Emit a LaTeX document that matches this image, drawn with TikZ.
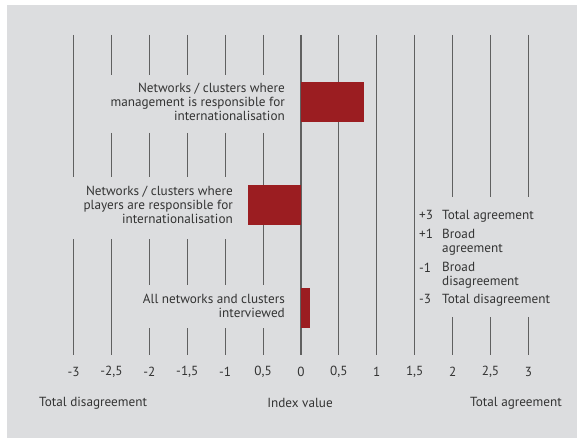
\documentclass[tikz,border=0pt]{standalone}
\usepackage{fontspec}
\setmainfont{PT Sans}
\usepackage{xcolor}
\definecolor{panelgray}{HTML}{DCDDDF}
\definecolor{barred}{HTML}{9B1D21}
\definecolor{linegray}{HTML}{606060}
\definecolor{textgray}{HTML}{333333}

\begin{document}
\begin{tikzpicture}[x=1pt,y=-1pt,
    gridline/.style={linegray,line width=1.1pt},
    txt/.style={text=textgray,inner sep=0pt,font=\fontsize{13.2}{13.8}\selectfont},
    rowlabel/.style={txt,align=right,anchor=east},
    keylabel/.style={txt,align=left,anchor=west}]
  \useasboundingbox (0,0) rectangle (577,438);

  % Panel
  \fill[panelgray] (7,5) rectangle (577,438);

  % Grid lines (x = 301 + 75.8 * index value)
  \foreach \v in {-3}
    \draw[gridline] ({301+75.8*\v},35) -- ({301+75.8*\v},177)
                    ({301+75.8*\v},239) -- ({301+75.8*\v},355);
  \foreach \v in {-2.5}
    \draw[gridline] ({301+75.8*\v},35) -- ({301+75.8*\v},75)
                    ({301+75.8*\v},133) -- ({301+75.8*\v},177)
                    ({301+75.8*\v},239) -- ({301+75.8*\v},355);
  \foreach \v in {-2,-1.5,-1}
    \draw[gridline] ({301+75.8*\v},35) -- ({301+75.8*\v},75)
                    ({301+75.8*\v},133) -- ({301+75.8*\v},177)
                    ({301+75.8*\v},239) -- ({301+75.8*\v},285)
                    ({301+75.8*\v},328) -- ({301+75.8*\v},355);
  \foreach \v in {-0.5}
    \draw[gridline] ({301+75.8*\v},35) -- ({301+75.8*\v},75)
                    ({301+75.8*\v},133) -- ({301+75.8*\v},285)
                    ({301+75.8*\v},328) -- ({301+75.8*\v},355);
  \foreach \v in {0,0.5,1,1.5}
    \draw[gridline] ({301+75.8*\v},35) -- ({301+75.8*\v},355);
  \foreach \v in {2,2.5,3}
    \draw[gridline] ({301+75.8*\v},35) -- ({301+75.8*\v},197)
                    ({301+75.8*\v},317) -- ({301+75.8*\v},355);

  % Bars
  \fill[barred] (301,82) rectangle (364,122);
  \fill[barred] (248,185) rectangle (301,225);
  \fill[barred] (301,288) rectangle (310,328);

  % Row labels
  \node[rowlabel] (mgmt) at (285,102) {Networks / clusters where\\management is responsible for\\internationalisation};
  \node[rowlabel] (players) at (233,205) {Networks / clusters where\\players are responsible for\\internationalisation};
  \node[rowlabel] (all) at (285,306) {All networks and clusters\\interviewed};

  % Key
  \node[keylabel] (k1) at (419,215) {+3};
  \node[keylabel] (t1) at (442,216) {Total agreement};
  \node[keylabel] (k2) at (419,234) {+1};
  \node[keylabel] (t2) at (442,242) {Broad\\agreement};
  \node[keylabel] (k3) at (419,268) {-1};
  \node[keylabel] (t3) at (442,275) {Broad\\disagreement};
  \node[keylabel] (k4) at (419,299) {-3};
  \node[keylabel] (t4) at (442,300) {Total disagreement};

  % Axis values
  \foreach \v/\t [count=\i] in {-3/-3,-2.5/{-2,5},-2/-2,-1.5/{-1,5},-1/-1,-0.5/{0,5},
      0/0,0.5/{0,5},1/1,1.5/{1,5},2/2,2.5/{2,5},3/3}
    \node[txt] (val\i) at ({301+75.8*\v},372) {\t};

  % Axis captions
  \node[txt,anchor=west] (lo) at (39,403) {Total disagreement};
  \node[txt] (axis) at (300,403) {Index value};
  \node[txt,anchor=east] (hi) at (562,403) {Total agreement};
\end{tikzpicture}
\end{document}
